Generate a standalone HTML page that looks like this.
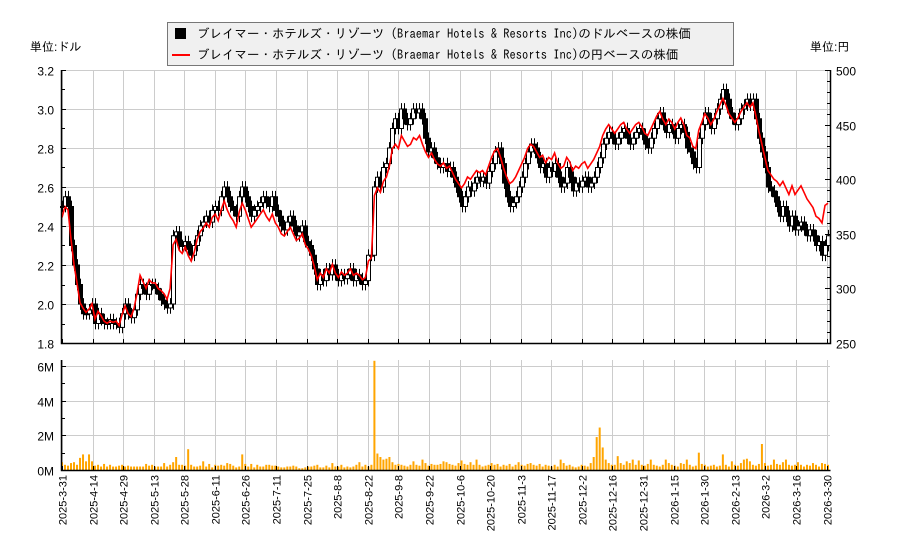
<!DOCTYPE html>
<html><head><meta charset="utf-8">
<style>
body{margin:0;background:#fff;}
svg{display:block;font-family:"Liberation Sans","IPAGothic",sans-serif;}
</style></head>
<body>
<svg id="chart" width="900" height="550">
<g id="grid"></g>
<g id="vol"></g>
<g id="candles"></g>
<path id="yenline" fill="none" stroke="#ff0000" stroke-width="1.6"/>
<g id="axes"></g>
<text x="30" y="51" font-size="12">単位:ドル</text>
<text x="810" y="51" font-size="12">単位:円</text>
<g>
<rect x="167.5" y="22.5" width="566" height="43" fill="#f0f0f0" stroke="#777"/>
<rect x="175" y="28" width="11" height="11" fill="#000"/>
<text x="197" y="38" font-size="12.5" font-family="IPAGothic,sans-serif">ブレイマー・ホテルズ・リゾーツ (Braemar Hotels &amp; Resorts Inc)のドルベースの株価</text>
<line x1="172" y1="55" x2="190" y2="55" stroke="#f00" stroke-width="2"/>
<text x="197" y="59" font-size="12.5" font-family="IPAGothic,sans-serif">ブレイマー・ホテルズ・リゾーツ (Braemar Hotels &amp; Resorts Inc)の円ベースの株価</text>
</g>
</svg>
<script>
const dateLabels=["2025-3-31","2025-4-14","2025-4-29","2025-5-13","2025-5-28","2025-6-11","2025-6-26","2025-7-11","2025-7-25","2025-8-8","2025-8-22","2025-9-8","2025-9-22","2025-10-6","2025-10-20","2025-11-3","2025-11-17","2025-12-2","2025-12-16","2025-12-31","2026-1-15","2026-1-30","2026-2-13","2026-3-2","2026-3-16","2026-3-30"];
const priceTicks=[1.8,2.0,2.2,2.4,2.6,2.8,3.0,3.2];
const yenTicks=[250,300,350,400,450,500];
const volTicks=[0,2,4,6];
const closes=[2.5,2.55,2.5,2.3,2.2,2.1,2.0,1.95,1.95,1.97,2.0,
1.9,1.95,1.92,1.9,1.9,1.92,1.9,1.9,1.88,1.95,
2.0,1.95,1.93,1.97,2.05,2.1,2.08,2.05,2.1,2.1,
2.08,2.05,2.02,2.0,1.98,2.0,2.35,2.37,2.3,2.3,
2.32,2.28,2.25,2.3,2.35,2.4,2.42,2.45,2.42,2.48,
2.5,2.48,2.55,2.6,2.55,2.5,2.48,2.45,2.55,2.6,
2.55,2.5,2.45,2.48,2.5,2.52,2.55,2.52,2.5,2.55,
2.48,2.45,2.4,2.38,2.42,2.45,2.4,2.35,2.37,2.4,
2.32,2.3,2.25,2.18,2.1,2.15,2.12,2.18,2.15,2.2,
2.15,2.12,2.15,2.13,2.15,2.18,2.12,2.15,2.13,2.1,
2.12,2.25,2.25,2.6,2.65,2.6,2.7,2.72,2.8,2.9,
2.95,2.9,3.0,2.95,2.92,2.95,3.0,2.98,3.0,2.95,
2.85,2.78,2.8,2.75,2.72,2.7,2.72,2.68,2.7,2.65,
2.6,2.55,2.5,2.55,2.6,2.58,2.62,2.65,2.63,2.65,
2.62,2.68,2.72,2.78,2.8,2.72,2.62,2.55,2.5,2.52,
2.55,2.6,2.65,2.72,2.78,2.82,2.8,2.75,2.7,2.72,
2.65,2.7,2.68,2.72,2.65,2.6,2.62,2.7,2.65,2.58,
2.62,2.6,2.63,2.65,2.6,2.62,2.65,2.7,2.75,2.82,
2.85,2.88,2.85,2.82,2.85,2.88,2.9,2.85,2.82,2.85,
2.88,2.9,2.87,2.82,2.8,2.85,2.9,2.95,2.98,2.92,
2.88,2.92,2.9,2.85,2.9,2.92,2.88,2.8,2.78,2.72,
2.7,2.85,2.92,2.98,2.95,2.9,2.95,3.0,3.05,3.1,
3.05,2.98,2.95,2.92,2.95,3.0,3.02,3.05,3.02,3.05,
2.95,2.85,2.78,2.7,2.6,2.58,2.55,2.5,2.45,2.5,
2.45,2.4,2.45,2.38,2.4,2.42,2.38,2.35,2.38,2.35,
2.3,2.32,2.25,2.3,2.35];
const yen=[365,375,372,345,322,305,287,282,278,281,286,
272,279,275,270,268,270,269,270,266,276,
284,277,274,282,296,312,306,300,308,305,
305,300,298,295,290,300,340,345,335,332,
338,330,325,333,345,352,355,360,356,365,
368,362,372,380,372,366,362,356,370,378,
372,364,356,360,364,368,372,366,362,368,
360,356,350,348,352,356,350,344,346,350,
340,336,330,320,308,314,310,318,314,322,
314,310,315,312,314,318,312,314,312,308,
310,325,328,385,392,388,398,402,412,428,
432,428,440,435,430,432,438,436,440,432,
425,420,424,418,414,412,415,410,412,406,
400,396,392,396,402,400,404,408,406,408,
404,412,420,426,428,420,410,402,396,398,
402,408,414,420,428,432,430,425,420,422,
415,420,418,424,415,410,412,420,416,408,
412,410,414,416,410,414,418,424,430,440,
446,450,446,442,446,450,452,446,442,446,
450,452,448,442,440,446,452,458,462,455,
450,455,452,446,452,456,450,440,438,430,
428,445,452,460,456,450,455,462,468,474,
468,460,456,452,456,462,466,470,466,470,
458,444,432,420,408,404,400,398,394,398,
392,386,394,386,390,394,388,382,378,374,
366,364,360,376,378];
const volumes=[0.45,0.3,0.25,0.4,0.45,0.3,0.7,0.9,0.5,0.9,0.5,
0.25,0.3,0.2,0.35,0.2,0.3,0.2,0.2,0.25,0.3,
0.2,0.25,0.2,0.2,0.2,0.2,0.2,0.35,0.25,0.3,
0.2,0.2,0.2,0.4,0.2,0.3,0.45,0.75,0.3,0.3,
0.25,1.2,0.3,0.2,0.2,0.25,0.5,0.2,0.35,0.15,
0.3,0.25,0.3,0.25,0.4,0.35,0.25,0.15,0.2,0.9,
0.35,0.2,0.35,0.15,0.3,0.2,0.2,0.3,0.3,0.25,
0.25,0.2,0.15,0.15,0.2,0.2,0.25,0.2,0.1,0.1,
0.15,0.2,0.2,0.25,0.3,0.15,0.15,0.25,0.15,0.4,
0.2,0.2,0.3,0.15,0.2,0.15,0.2,0.3,0.45,0.2,
0.3,0.2,0.3,6.3,0.95,0.75,0.6,0.65,0.75,0.45,0.3,0.35,
0.3,0.25,0.2,0.3,0.5,0.3,0.25,0.6,0.4,0.25,
0.35,0.3,0.3,0.35,0.5,0.45,0.35,0.3,0.25,0.4,
0.55,0.35,0.3,0.45,0.3,0.6,0.3,0.2,0.25,0.3,
0.4,0.3,0.35,0.2,0.3,0.25,0.35,0.2,0.3,0.45,
0.3,0.25,0.35,0.4,0.3,0.25,0.35,0.2,0.3,0.25,
0.2,0.3,0.2,0.6,0.4,0.25,0.3,0.2,0.15,0.2,
0.3,0.25,0.2,0.4,0.75,1.9,2.45,1.3,0.6,0.4,
0.3,0.3,0.8,0.4,0.3,0.5,0.4,0.6,0.3,0.55,
0.3,0.25,0.35,0.6,0.3,0.25,0.2,0.3,0.6,0.4,
0.3,0.25,0.2,0.4,0.35,0.6,0.3,0.2,0.25,1.0,
0.35,0.3,0.2,0.25,0.3,0.2,0.25,0.9,0.3,0.2,
0.5,0.3,0.25,0.4,0.6,0.65,0.5,0.3,0.25,0.35,
1.5,0.4,0.25,0.3,0.6,0.35,0.3,0.45,0.6,0.3,
0.25,0.3,0.45,0.3,0.2,0.3,0.25,0.4,0.3,0.2,
0.4,0.35,0.3];

const NS="http://www.w3.org/2000/svg";
const L=61,R=830,PT=70,PB=343,VT=360,VB=470;
const x0=62,xEnd=828;
const xOf=(i,n)=>x0+i*(xEnd-x0)/(n-1);
const tickX=k=>x0+k*30.58;
const yP=v=>PB-(v-1.8)/1.4*(PB-PT);
const yY=v=>PB-(v-250)/250*(PB-PT);
const yV=v=>VB-v/6*(VB-366);
function mk(tag,attrs,parent){const e=document.createElementNS(NS,tag);for(const k in attrs)e.setAttribute(k,attrs[k]);parent.appendChild(e);return e;}
const grid=document.getElementById('grid'),axes=document.getElementById('axes');
dateLabels.forEach((d,k)=>{
  const x=Math.round(tickX(k))+0.5;
  let g=mk('line',{x1:x,y1:PT,x2:x,y2:PB,stroke:'#ccc'},grid);
  
  
  g=mk('line',{x1:x,y1:VT,x2:x,y2:VB,stroke:'#ccc'},grid);
  
  
  mk('line',{x1:x,y1:PB-4,x2:x,y2:PB,stroke:'#000'},axes);
  mk('line',{x1:x,y1:VB-4,x2:x,y2:VB,stroke:'#000'},axes);
  const t=mk('text',{x:0,y:0,'font-size':11,'text-anchor':'end',transform:`translate(${x+4},${VB+5}) rotate(-90)`},axes);
  t.textContent=d;
  
  
});
priceTicks.forEach(v=>{
  const y=Math.round(yP(v))+0.5;
  const g=mk('line',{x1:L,y1:y,x2:R,y2:y,stroke:'#ccc'},grid);
  
  
  mk('line',{x1:L,y1:y,x2:L+5,y2:y,stroke:'#000'},axes);
  const t=mk('text',{x:L-7,y:y+5,'font-size':12,'text-anchor':'end'},axes);
  t.textContent=v.toFixed(1);
  
  
});
for(let v=1.9;v<3.2;v+=0.2){const y=Math.round(yP(v))+0.5;mk('line',{x1:L,y1:y,x2:L+4,y2:y,stroke:'#000'},axes);}
yenTicks.forEach(v=>{
  const y=Math.round(yY(v))+0.5;
  mk('line',{x1:R-5,y1:y,x2:R,y2:y,stroke:'#000'},axes);
  const t=mk('text',{x:R+6,y:y+5,'font-size':12},axes);
  t.textContent=v;
  
  
});
for(let v=260;v<500;v+=10){const y=Math.round(yY(v))+0.5;mk('line',{x1:R-3,y1:y,x2:R,y2:y,stroke:'#000'},axes);}
volTicks.forEach(v=>{
  const y=Math.round(yV(v))+0.5;
  if(v>0){const g=mk('line',{x1:L,y1:y,x2:R,y2:y,stroke:'#ccc'},grid);
  
  }
  mk('line',{x1:L,y1:y,x2:L+5,y2:y,stroke:'#000'},axes);
  const t=mk('text',{x:L-7,y:y+5,'font-size':12,'text-anchor':'end'},axes);
  t.textContent=v+'M';
  
  
});
[1,3,5].forEach(v=>{const y=Math.round(yV(v))+0.5;mk('line',{x1:L,y1:y,x2:L+4,y2:y,stroke:'#000'},axes);});
mk('path',{d:`M${L+0.5},${PT} V${PB+0.5} H${R+0.5} V${PT}`,fill:'none',stroke:'#000','stroke-width':1.5},axes);
mk('path',{d:`M${L+0.5},${VT} V${VB+0.5} H${R+0.5}`,fill:'none',stroke:'#000','stroke-width':1.5},axes);
const vg=document.getElementById('vol');
volumes.forEach((v,i)=>{
  const b=mk('rect',{x:xOf(i,volumes.length)-1,y:yV(v),width:2,height:VB-yV(v),fill:'#ffa500'},vg);
  
  
});
const cg=document.getElementById('candles');
closes.forEach((c,i)=>{
  const o=i>0?closes[i-1]:c;
  const hi=Math.max(o,c),lo=Math.min(o,c);
  const x=Math.round(xOf(i,closes.length))+0.5;
  mk('line',{x1:x,y1:yP(hi+0.03),x2:x,y2:yP(lo-0.03),stroke:'#000'},cg);
  const top=yP(hi),h=Math.max(1,yP(lo)-top);
  const r=mk('rect',{x:x-2,y:top,width:4,height:h,fill:c>=o?'#fff':'#000',stroke:'#000'},cg);
  
  
});
document.getElementById('yenline').setAttribute('d',yen.map((v,i)=>(i?'L':'M')+xOf(i,yen.length).toFixed(1)+','+yY(v).toFixed(1)).join(' '));
</script>
</body></html>
